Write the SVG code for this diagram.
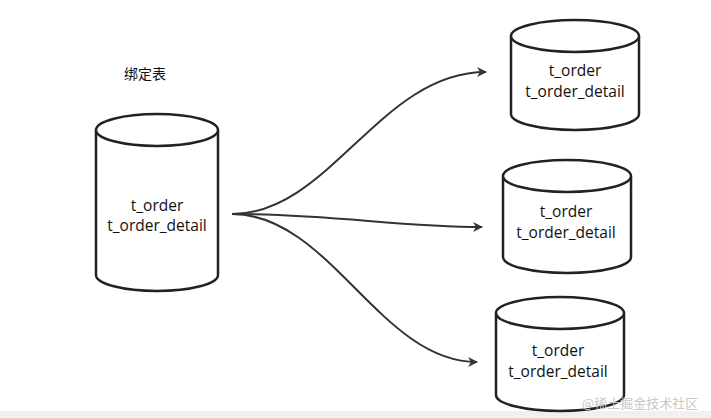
<svg xmlns="http://www.w3.org/2000/svg" width="711" height="418" viewBox="0 0 711 418">
<style>
.c{fill:#fff;stroke:#222;stroke-width:2.5}
.t{font-family:"Open Sans","Liberation Sans",Arial,sans-serif;font-size:15.5px;fill:#111;text-anchor:middle}
.e{fill:none;stroke:#333;stroke-width:2}
</style>
<defs><marker id="a" viewBox="0 0 10 10" refX="9" refY="5" markerWidth="12" markerHeight="10" orient="auto" markerUnits="userSpaceOnUse"><path d="M0,0L10,5L0,10L3,5z" fill="#333"/></marker></defs>
<rect width="711" height="418" fill="#fff"/>
<rect y="411" width="711" height="7" fill="#f0f0f0"/>
<text x="145" y="79" class="t" style="font-size:14px;font-family:'Noto Sans CJK SC',sans-serif">绑定表</text>
<g id="src"><path class="c" d="M96,130 a61,16 0 0 1 122,0 v145 a61,16 0 0 1 -122,0z"/><path class="c" d="M96,130 a61,16 0 0 0 122,0"/><text class="t" x="157" y="211">t_order</text><text class="t" x="157" y="231">t_order_detail</text></g>
<g id="db1"><path class="c" d="M511,36 a64,16 0 0 1 128,0 v78 a64,16 0 0 1 -128,0z"/><path class="c" d="M511,36 a64,16 0 0 0 128,0"/><text class="t" x="575" y="76">t_order</text><text class="t" x="575" y="97">t_order_detail</text></g>
<g id="db2"><path class="c" d="M503,176 a64,16 0 0 1 128,0 v81 a64,16 0 0 1 -128,0z"/><path class="c" d="M503,176 a64,16 0 0 0 128,0"/><text class="t" x="566" y="217">t_order</text><text class="t" x="566" y="238">t_order_detail</text></g>
<g id="db3"><path class="c" d="M496,313 a64,16 0 0 1 128,0 v82 a64,16 0 0 1 -128,0z"/><path class="c" d="M496,313 a64,16 0 0 0 128,0"/><text class="t" x="558" y="356">t_order</text><text class="t" x="558" y="377">t_order_detail</text></g>
<g id="edges">
<path class="e" marker-end="url(#a)" d="M232,214 C330,214 380,72 486,72"/>
<path class="e" marker-end="url(#a)" d="M232,214 C330,214 400,227 482,227"/>
<path class="e" marker-end="url(#a)" d="M232,214 C330,214 380,362 477,362"/>
</g>
<text x="640" y="408" style="font-family:'Noto Sans CJK SC',sans-serif;font-size:13px;fill:#c8c8c8;text-anchor:middle">@稀土掘金技术社区</text>
</svg>
